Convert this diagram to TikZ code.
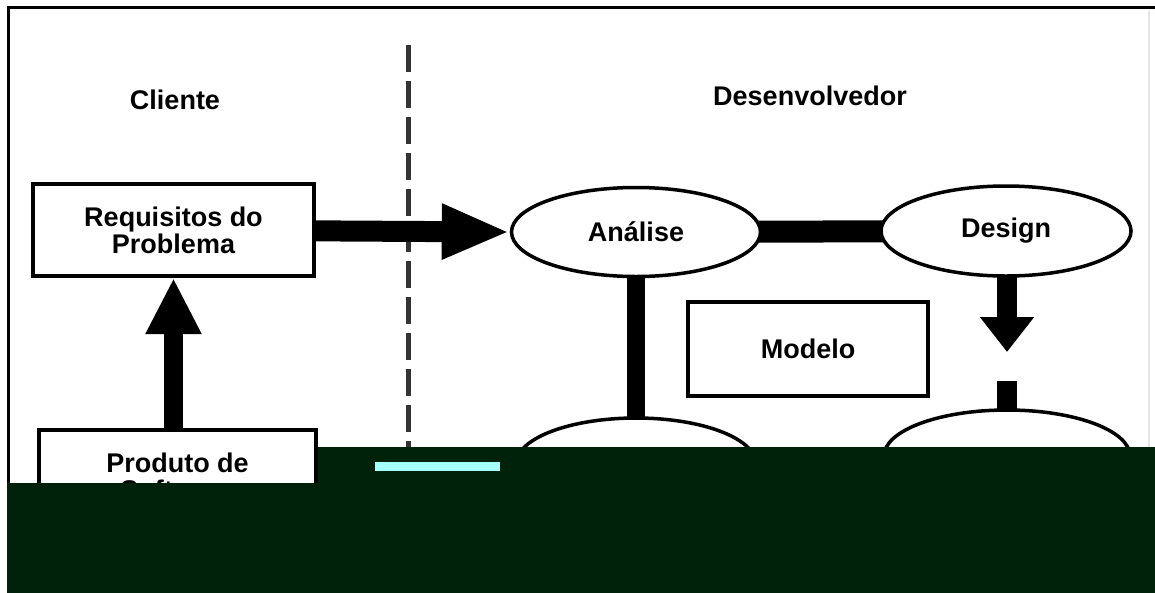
\documentclass[tikz,border=0pt]{standalone}
\usepackage{fontspec}
\setmainfont{Liberation Sans}
\usetikzlibrary{arrows.meta,shapes.geometric,backgrounds}
\definecolor{blockgreen}{RGB}{0,34,10}
\definecolor{noisecyan}{RGB}{165,255,255}
\begin{document}
\begin{tikzpicture}[x=1pt,y=-1pt,
  font=\fontsize{27pt}{27pt}\selectfont\bfseries,
  box/.style={draw, fill=white, line width=4pt, inner sep=0pt, align=center},
  oval/.style={draw, fill=white, ellipse, line width=3.5pt, inner sep=0pt},
  label/.style={inner sep=0pt},
  bar/.style={line width=#1},
  divider/.style={draw=black!80, line width=5pt, dash pattern=on 27pt off 9pt}]
\useasboundingbox (0,0) rectangle (1155,592);

% titles
\node[label] (cli) at (175,100) {Cliente};
\node[label] (dev) at (810,96) {Desenvolvedor};

% nodes
\node[box, minimum width=281pt, minimum height=92pt] (req) at (173.5,230) {Requisitos do\\Problema};
\node[box, minimum width=277pt, minimum height=92pt] (prod) at (177.5,476) {Produto de\\Software};
\node[box, minimum width=240pt, minimum height=94pt] (mod) at (808,349) {Modelo};
\node[oval, minimum width=249pt, minimum height=89pt] (ana) at (636,232) {Análise};
\node[oval, minimum width=250pt, minimum height=90pt] (des) at (1006,231) {Design};
\node[oval, minimum width=240pt, minimum height=92pt] (lowL) at (636,464) {};
\node[oval, minimum width=246pt, minimum height=92pt] (lowR) at (1007,456) {};
\coordinate (dtip) at (1007,352);
\coordinate (gap) at (1007,381);
\coordinate (divtop) at (408,45);
\coordinate (divbot) at (408,600);

\begin{pgfonlayer}{background}
  \fill[white] (0,0) rectangle (1155,592);
  \draw[divider] (divtop) -- (divbot);
  \draw[bar=21pt, -{Triangle[length=68pt,width=51pt]}] (req.center) -- (ana.west);
  \draw[bar=22pt] (ana.center) -- (des.center);
  \draw[bar=18pt] (ana.center) -- (lowL.center);
  \draw[bar=20pt, -{Triangle[length=35pt,width=52pt]}] (des.center -| dtip) -- (dtip);
  \draw[bar=20pt] (gap) -- (lowR.center -| gap);
  \draw[bar=19pt, -{Triangle[length=56pt,width=52pt]}] (prod.center -| req.south) -- (req.south);
\end{pgfonlayer}

% outer frame
\draw[line width=3.5pt] (8.3,600) -- (8.3,7.5) -- (1160,7.5);
\draw[black!10, line width=2pt] (1149,11) -- (1149,447);

% corrupted lower band of the reference
\fill[blockgreen] (7,483) -- (318,483) -- (318,447) -- (1160,447) -- (1160,600) -- (7,600) -- cycle;
\fill[noisecyan] (375,462) rectangle (500,471);
\end{tikzpicture}
\end{document}
